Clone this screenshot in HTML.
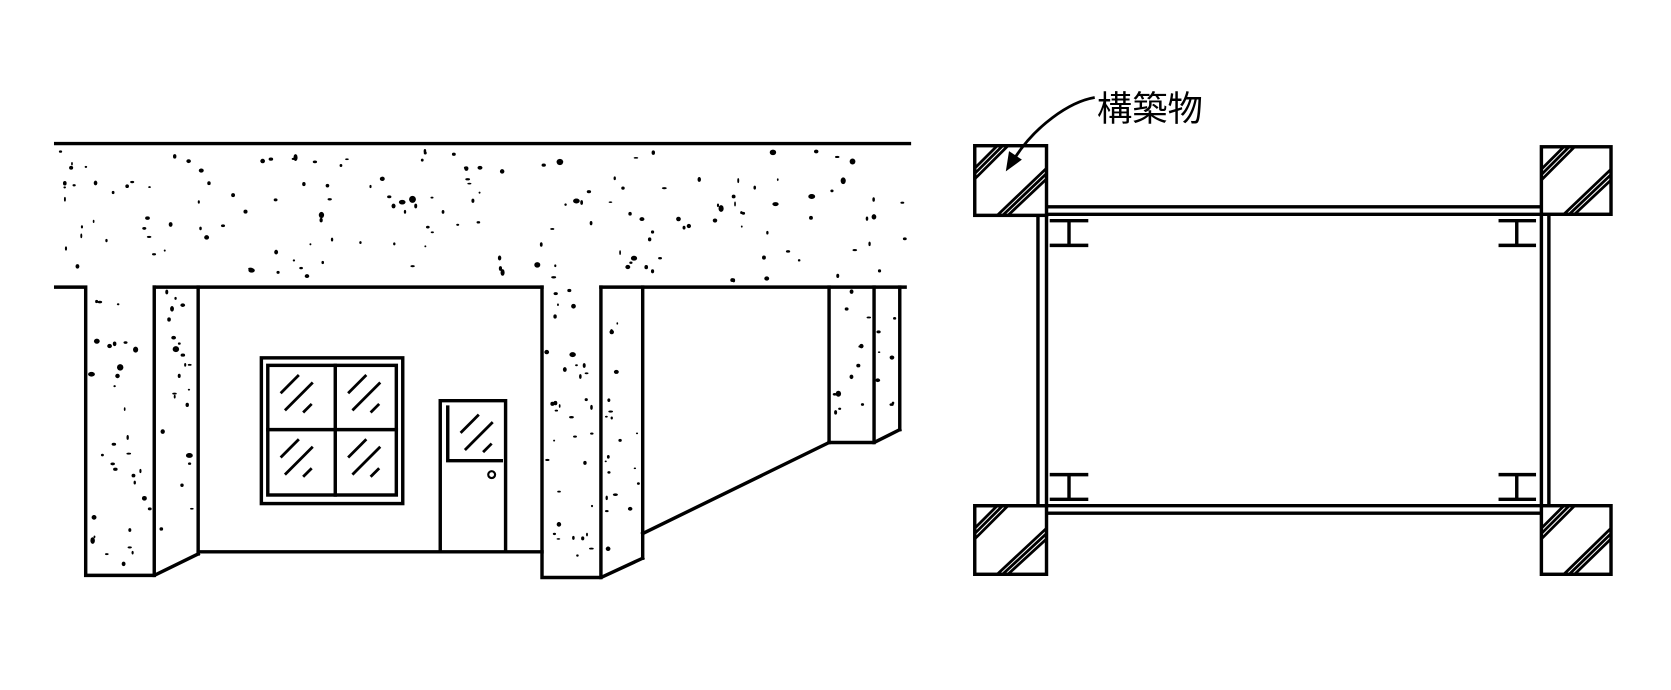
<!DOCTYPE html>
<html><head><meta charset="utf-8"><style>
html,body{margin:0;padding:0;background:#fff;}
svg{display:block;}
</style></head><body>
<svg id="s" width="1671" height="690" viewBox="0 0 1560 644" preserveAspectRatio="none" xmlns="http://www.w3.org/2000/svg">
<rect width="1560" height="644" fill="#fff"/>
<g id="dots" fill="#000"></g>
<g stroke="#000" stroke-width="3.2" fill="none" stroke-linecap="square">
<line x1="52" y1="134" x2="849" y2="134"/>
<polyline points="52,268 80,268 80,537 144,537 185,517"/>
<polyline points="144,268 506,268"/>
<line x1="144" y1="268" x2="144" y2="537"/>
<line x1="185" y1="268" x2="185" y2="517"/>
<line x1="185" y1="515" x2="506" y2="515"/>
<polyline points="506,268 506,539 561,539 600,521"/>
<line x1="561" y1="268" x2="845" y2="268"/>
<line x1="561" y1="268" x2="561" y2="539"/>
<line x1="600" y1="268" x2="600" y2="521"/>
<line x1="600" y1="498" x2="774" y2="413"/>
<line x1="774" y1="268" x2="774" y2="413"/>
<line x1="816" y1="268" x2="816" y2="413"/>
<line x1="840" y1="268" x2="840" y2="401"/>
<polyline points="774,413 816,413 840,401"/>
<rect x="244" y="334" width="132" height="136"/>
<rect x="250" y="341" width="120" height="121"/>
<line x1="313" y1="341" x2="313" y2="462"/>
<line x1="250" y1="401" x2="370" y2="401"/>
<polyline points="411,515 411,374 472,374 472,515"/>
<polyline points="418,380 418,430 468,430"/>
<circle cx="459" cy="443" r="3.2" stroke-width="2"/>
</g>
<g stroke="#000" stroke-width="2.6" fill="none" id="hat"></g>
<g stroke="#000" stroke-width="3.2" fill="none">
<rect x="910" y="136" width="67" height="65"/>
<rect x="1439" y="137" width="65" height="63"/>
<rect x="910" y="472" width="67" height="64"/>
<rect x="1439" y="472" width="65" height="64"/>
<line x1="977" y1="193" x2="1439" y2="193"/>
<line x1="977" y1="200" x2="1439" y2="200"/>
<line x1="910" y1="472" x2="1439" y2="472"/>
<line x1="977" y1="479" x2="1439" y2="479"/>
<line x1="969" y1="201" x2="969" y2="472"/>
<line x1="977" y1="201" x2="977" y2="472"/>
<line x1="1439" y1="200" x2="1439" y2="472"/>
<line x1="1446" y1="200" x2="1446" y2="472"/>
<path d="M980,206H1016M980,229H1016M998,206V229"/>
<path d="M980,443H1016M980,466H1016M998,443V466"/>
<path d="M1399,206H1434M1399,229H1434M1416,206V229"/>
<path d="M1399,443H1434M1399,466H1434M1416,443V466"/>
<path d="M1022,91 C998,95 966,118 947,148" stroke-width="2.6"/>
</g>
<polygon points="939,160 942,141 954,149" fill="#000"/>
<text x="1024" y="113" font-family="'Liberation Sans','Noto Sans CJK JP',sans-serif" font-size="33" fill="#000">構築物</text>
</svg>
<script>
(function(){
var ns="http://www.w3.org/2000/svg";
var seed=12345;function r(){seed=(seed*1103515245+12345)%2147483648;return seed/2147483648;}
var g=document.getElementById('dots');
function fill(x0,y0,x1,y1,n){
 for(var i=0;i<n;i++){
  var e=document.createElementNS(ns,'ellipse');
  var rx=0.8+r()*1.5,ry=0.8+r()*1.5;if(r()<0.12){rx+=1;ry+=1;}
  e.setAttribute('cx',(x0+r()*(x1-x0)).toFixed(1));
  e.setAttribute('cy',(y0+r()*(y1-y0)).toFixed(1));
  e.setAttribute('rx',rx.toFixed(1));e.setAttribute('ry',ry.toFixed(1));
  g.appendChild(e);
 }
}
fill(56,140,848,262,160);
fill(84,272,140,532,32);
fill(148,272,182,512,22);
fill(510,262,557,535,34);
fill(565,272,597,516,20);
fill(778,272,813,409,12);
fill(819,272,837,400,7);
var h=document.getElementById('hat');
function ln(a,b,c,d){var l=document.createElementNS(ns,'line');l.setAttribute('x1',a);l.setAttribute('y1',b);l.setAttribute('x2',c);l.setAttribute('y2',d);h.appendChild(l);}
function box(x,y,w,hh){
 [21,26,31].forEach(function(c){ln(x,y+c,x+c,y);});
 [21,26,31].forEach(function(c){ln(x+c,y+hh,x+w,y+c);});
}
box(910,136,67,65);box(1439,137,65,63);box(910,472,67,64);box(1439,472,65,64);
function pane(x,y){ln(x+10,y+24,x+27,y+7);ln(x+14,y+40,x+40,y+14);ln(x+31,y+42,x+39,y+34);}
pane(252,343);pane(315,343);pane(252,403);pane(315,403);
pane(420,380);
})();
</script>
</body></html>
